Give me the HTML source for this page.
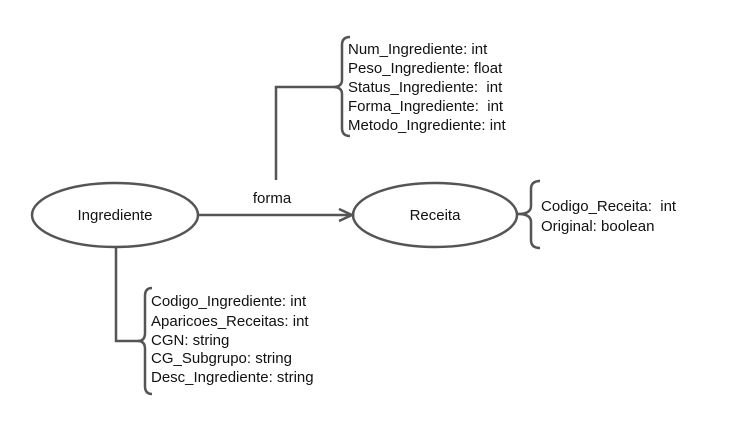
<!DOCTYPE html>
<html><head><style>
html,body{margin:0;padding:0;background:#fff;}
svg{display:block;}
text{font-family:"Liberation Sans",sans-serif;font-size:15px;fill:#111;white-space:pre;}
</style></head><body>
<svg width="742" height="430" viewBox="0 0 742 430" xmlns="http://www.w3.org/2000/svg">
<g fill="none" stroke="#555" stroke-width="2.5">
<ellipse cx="115" cy="215" rx="83" ry="32"/>
<ellipse cx="435" cy="215" rx="82" ry="32"/>
<line x1="198" y1="215" x2="350" y2="215"/>
<path d="M339 209 L352 215 L339 221"/>
<polyline points="276,180 276,87 333,87"/>
<polyline points="116,247 116,341 143,341"/>
<path d="M350 37 Q342 37 342 45 L342 80 Q342 87 333 87 Q342 87 342 94 L342 128 Q342 136 350 136"/>
<path d="M152 288 Q145 288 145 296 L145 333 Q145 341 138 341 Q145 341 145 349 L145 386 Q145 394 152 394"/>
<path d="M540 181 Q531 181 531 189 L531 206 Q531 214 518 214 Q531 214 531 222 L531 240 Q531 248 540 248"/>
</g>
<text x="115" y="220" text-anchor="middle">Ingrediente</text>
<text x="435" y="220" text-anchor="middle">Receita</text>
<text x="272" y="203" text-anchor="middle">forma</text>
<text x="348" y="54" xml:space="preserve">Num_Ingrediente: int</text>
<text x="348" y="73" xml:space="preserve">Peso_Ingrediente: float</text>
<text x="348" y="92" xml:space="preserve">Status_Ingrediente:  int</text>
<text x="348" y="111" xml:space="preserve">Forma_Ingrediente:  int</text>
<text x="348" y="130" xml:space="preserve">Metodo_Ingrediente: int</text>
<text x="541" y="211" xml:space="preserve">Codigo_Receita:  int</text>
<text x="541" y="231" xml:space="preserve">Original: boolean</text>
<text x="151" y="306" xml:space="preserve">Codigo_Ingrediente: int</text>
<text x="151" y="326" xml:space="preserve">Aparicoes_Receitas: int</text>
<text x="151" y="345" xml:space="preserve">CGN: string</text>
<text x="151" y="363" xml:space="preserve">CG_Subgrupo: string</text>
<text x="151" y="382" xml:space="preserve">Desc_Ingrediente: string</text>
</svg>
</body></html>
